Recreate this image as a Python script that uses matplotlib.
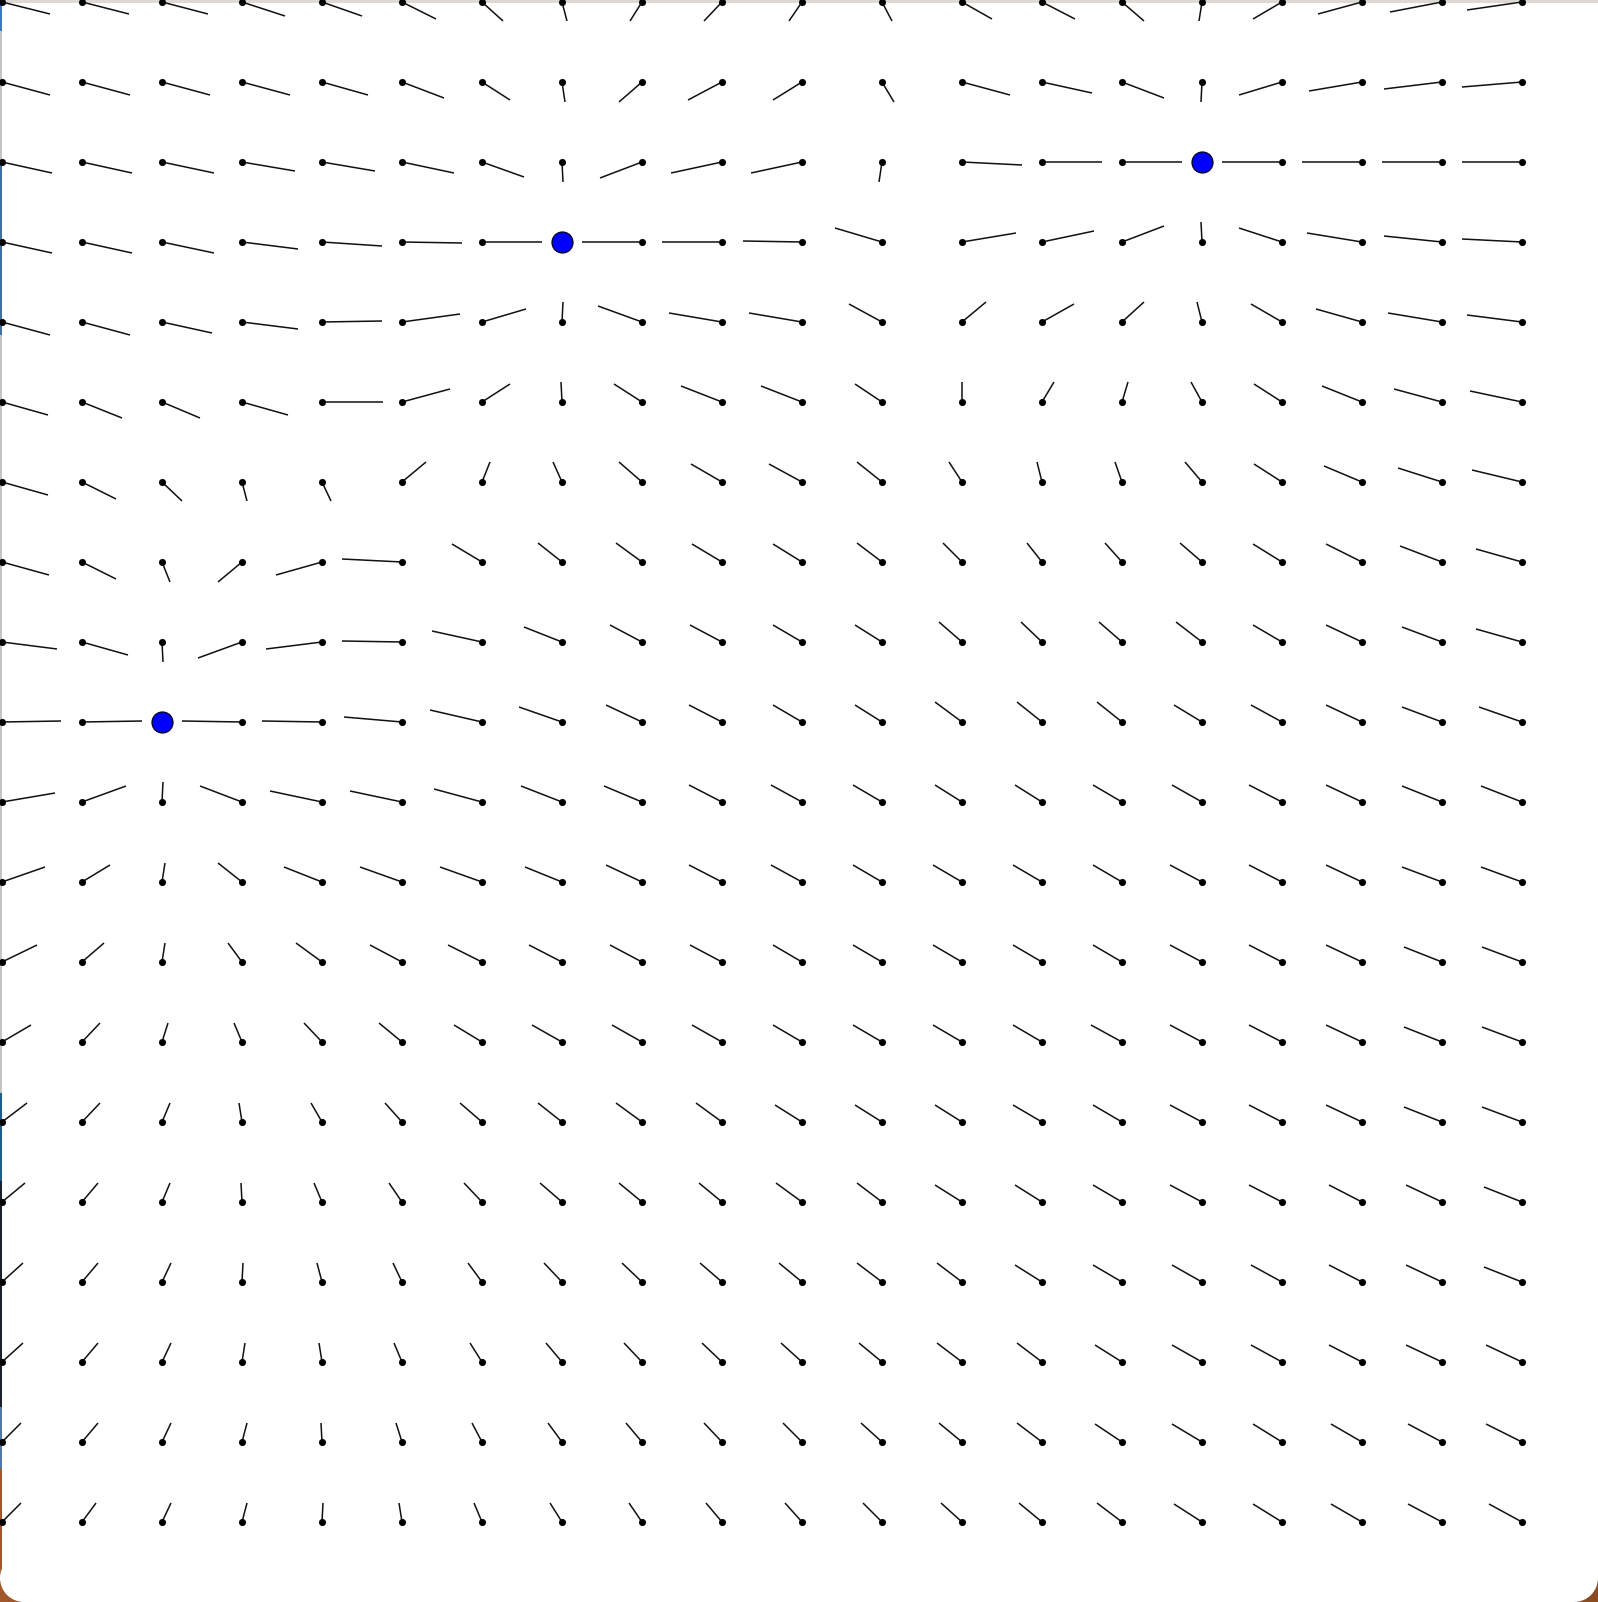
import numpy as np
import matplotlib
matplotlib.use("Agg")
import matplotlib.pyplot as plt
from matplotlib.collections import LineCollection
from matplotlib.patches import Rectangle, Circle

W, H = 1598, 1602
CELL = 80      # pixel pitch of the needle grid
ORIGIN = 2     # pixel position of the first pivot

# offset of each needle tip from its pivot, screen px (y down)
# rows top -> bottom, columns left -> right; 0 where a mass sits
needle_dx = [
    [48, 47, 46, 43, 40, 34, 21, 5, -12, -18, -13, 10, 30, 33, 22, -3, -29, -44, -52, -55],
    [48, 48, 48, 48, 46, 42, 28, 3, -23, -34, -29, 12, 48, 50, 42, -1, -43, -53, -58, -60],
    [50, 50, 52, 53, 53, 52, 42, 1, -42, -51, -51, -3, 60, 60, 60, 0, -60, -60, -60, -60],
    [50, 50, 52, 56, 60, 60, 60, 0, -60, -60, -59, -47, 54, 52, 42, -1, -43, -55, -58, -60],
    [48, 48, 50, 56, 60, 58, 44, 1, -44, -53, -53, -33, 24, 32, 22, -5, -31, -46, -54, -55],
    [46, 40, 38, 46, 61, 48, 28, -1, -28, -41, -41, -27, 0, 12, 6, -11, -28, -40, -48, -52],
    [46, 34, 20, 5, 9, 24, 8, -9, -23, -31, -33, -25, -13, -5, -7, -17, -28, -38, -44, -50],
    [47, 34, 8, -24, -46, -60, -30, -24, -26, -30, -29, -25, -19, -15, -17, -22, -29, -36, -42, -46],
    [55, 46, 1, -44, -56, -60, -50, -38, -32, -32, -29, -27, -23, -21, -23, -26, -29, -36, -40, -46],
    [59, 60, 0, -60, -60, -58, -52, -43, -36, -33, -29, -27, -27, -25, -25, -28, -31, -36, -40, -43],
    [53, 44, 1, -42, -52, -52, -48, -41, -38, -33, -31, -29, -27, -27, -29, -30, -33, -36, -40, -41],
    [43, 28, 3, -24, -38, -42, -42, -37, -36, -33, -31, -29, -29, -29, -29, -32, -33, -36, -40, -41],
    [35, 22, 3, -14, -26, -32, -34, -33, -32, -32, -29, -29, -29, -29, -29, -32, -33, -36, -38, -40],
    [29, 18, 6, -8, -18, -23, -28, -30, -30, -30, -29, -29, -29, -29, -31, -32, -33, -36, -38, -40],
    [25, 18, 8, -3, -11, -17, -22, -24, -26, -26, -27, -27, -27, -29, -29, -32, -33, -36, -38, -40],
    [23, 16, 8, -1, -8, -13, -18, -22, -23, -23, -26, -25, -27, -27, -29, -32, -33, -33, -36, -38],
    [21, 16, 9, 1, -5, -9, -14, -18, -20, -22, -23, -25, -25, -27, -29, -30, -31, -33, -36, -38],
    [21, 16, 9, 3, -3, -8, -12, -16, -18, -20, -21, -23, -25, -25, -27, -30, -31, -33, -36, -36],
    [19, 16, 9, 5, -1, -6, -10, -14, -16, -18, -19, -21, -23, -25, -27, -30, -29, -31, -34, -36],
    [19, 14, 9, 5, 1, -3, -8, -12, -13, -16, -17, -19, -21, -23, -25, -28, -29, -31, -34, -33],
]
needle_dy = [
    [12, 12, 12, 14, 14, 17, 19, 19, 19, 19, 19, 19, 17, 17, 19, 19, 17, 12, 10, 8],
    [13, 13, 13, 13, 13, 16, 18, 20, 20, 18, 18, 20, 13, 11, 16, 20, 13, 9, 7, 5],
    [11, 11, 11, 9, 9, 11, 15, 20, 16, 11, 11, 20, 3, 0, 0, 0, 0, 0, 0, 0],
    [11, 11, 11, 7, 4, 1, 0, 0, 0, 0, -1, -14, -9, -11, -16, -20, -14, -9, -6, -3],
    [13, 13, 11, 7, -1, -8, -13, -20, -16, -9, -9, -18, -20, -18, -20, -20, -18, -13, -9, -7],
    [13, 16, 16, 13, 0, -13, -18, -20, -18, -16, -16, -18, -20, -20, -20, -20, -18, -16, -13, -11],
    [13, 17, 19, 19, 19, -20, -20, -20, -20, -18, -18, -20, -20, -20, -20, -20, -18, -16, -14, -12],
    [13, 17, 20, 20, 13, -3, -18, -19, -19, -18, -18, -19, -19, -19, -19, -19, -18, -18, -16, -13],
    [7, 13, 20, 16, 7, -1, -11, -15, -17, -17, -17, -17, -20, -20, -20, -20, -17, -17, -15, -13],
    [-1, -1, 0, -1, -1, -5, -12, -15, -17, -17, -17, -17, -20, -20, -20, -17, -17, -17, -15, -15],
    [-9, -16, -20, -16, -11, -11, -13, -16, -16, -17, -17, -17, -17, -17, -17, -17, -17, -17, -16, -16],
    [-15, -17, -19, -19, -15, -15, -15, -15, -17, -17, -17, -17, -17, -17, -17, -17, -17, -17, -15, -15],
    [-17, -19, -19, -19, -19, -17, -17, -17, -17, -17, -17, -17, -17, -17, -17, -17, -17, -17, -15, -15],
    [-17, -19, -19, -19, -19, -19, -17, -17, -17, -17, -17, -17, -17, -17, -17, -17, -17, -17, -15, -15],
    [-19, -19, -19, -19, -19, -19, -19, -19, -19, -19, -17, -17, -17, -17, -17, -17, -17, -17, -15, -15],
    [-19, -19, -19, -19, -19, -19, -19, -19, -19, -19, -19, -19, -17, -17, -17, -17, -17, -17, -17, -15],
    [-19, -19, -19, -19, -19, -19, -19, -19, -19, -19, -19, -19, -19, -17, -17, -17, -17, -17, -17, -15],
    [-19, -19, -19, -19, -19, -19, -19, -19, -19, -19, -19, -19, -19, -19, -17, -17, -17, -17, -17, -17],
    [-19, -19, -19, -19, -19, -19, -19, -19, -19, -19, -19, -19, -19, -19, -18, -18, -18, -18, -18, -18],
    [-19, -19, -19, -19, -19, -19, -19, -19, -19, -19, -19, -19, -19, -19, -19, -18, -18, -18, -18, -18],
]
# masses (grid column, grid row)
mass_col = [7, 15, 2]
mass_row = [3, 2, 9]

fig = plt.figure(figsize=(W / 100, H / 100), dpi=100)
fig.patch.set_facecolor("white")

# window chrome of the screenshot, in pixel coords
deco = fig.add_axes([0, 0, 1, 1])
deco.set_xlim(0, W)
deco.set_ylim(H, 0)
deco.axis("off")
deco.add_patch(Rectangle((0, 0), W, 2.5, color="#dcd8d4", lw=0))
strip = [(0, 31, "#3a78c8"), (31, 160, "#c4c4c4"), (160, 335, "#41709f"),
         (335, 1093, "#c4c4c4"), (1093, 1181, "#1c5f8c"), (1181, 1407, "#1b2029"),
         (1407, 1469, "#52799f"), (1469, H, "#a0582a")]
for y0, y1, col in strip:
    deco.add_patch(Rectangle((0, y0), 2, y1 - y0, color=col, lw=0))
r = 24
deco.add_patch(Rectangle((0, H - r), r, r, color="#a0582a", lw=0))
deco.add_patch(Circle((r, H - r), r, color="white", lw=0))
deco.add_patch(Rectangle((W - r, H - r), r, r, color="#8a4a22", lw=0))
deco.add_patch(Circle((W - r, H - r), r, color="white", lw=0))

# needle field, in grid units
ax = fig.add_axes([0, 0, 1, 1])
ax.patch.set_alpha(0)
ax.set_xlim(-ORIGIN / CELL, (W - ORIGIN) / CELL)
ax.set_ylim((H - ORIGIN) / CELL, -ORIGIN / CELL)
ax.axis("off")

dx = np.array(needle_dx) / CELL
dy = np.array(needle_dy) / CELL
n_rows, n_cols = dx.shape
rows, cols = np.mgrid[0:n_rows, 0:n_cols]
is_mass = np.zeros(dx.shape, dtype=bool)
is_mass[mass_row, mass_col] = True

segs = []
for r_, c_ in zip(rows[~is_mass], cols[~is_mass]):
    segs.append([(c_, r_), (c_ + dx[r_, c_], r_ + dy[r_, c_])])
ax.add_collection(LineCollection(segs, colors="#111111", linewidths=1.1))
ax.scatter(cols[~is_mass], rows[~is_mass], s=26, c="black", linewidths=0, zorder=3)
ax.scatter(mass_col, mass_row, s=225, c="#0000ff", edgecolors="#000033",
           linewidths=1.0, zorder=5)

fig.savefig("out.png", dpi=100)
